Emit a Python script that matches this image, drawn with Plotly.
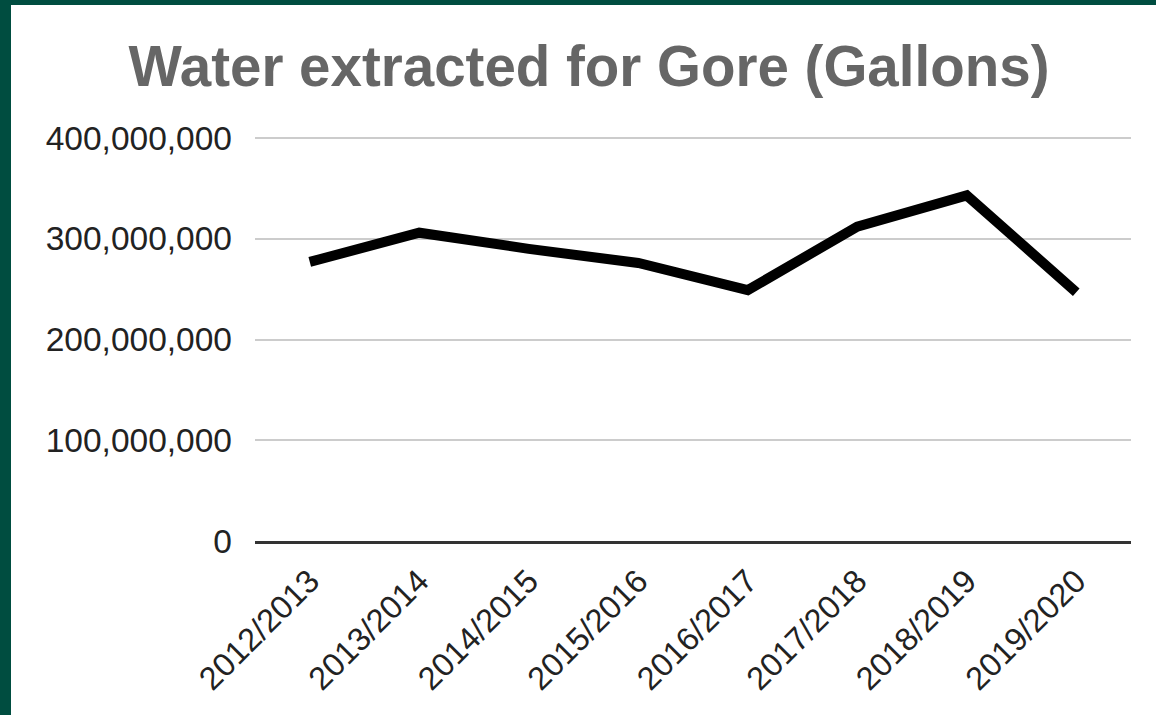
import plotly.graph_objects as go

years = ["2012/2013", "2013/2014", "2014/2015", "2015/2016",
         "2016/2017", "2017/2018", "2018/2019", "2019/2020"]
gallons = [277e6, 306e6, 290e6, 276e6, 249e6, 312e6, 343e6, 247e6]
y_ticks = [0, 100e6, 200e6, 300e6, 400e6]

W, H = 1156, 715
L, R, T, B = 255, 25, 137, 174
pw, ph = W - L - R, H - T - B

fig = go.Figure(go.Scatter(
    x=years, y=gallons, mode="lines",
    line=dict(color="#000000", width=10),
    hoverinfo="skip",
))

border = "#004D40"
fig.add_shape(type="rect", xref="paper", yref="paper",
              x0=-L / pw, x1=(11 - L) / pw, y0=-B / ph, y1=(H - B) / ph,
              fillcolor=border, line_width=0, layer="below")
fig.add_shape(type="rect", xref="paper", yref="paper",
              x0=-L / pw, x1=(W - L) / pw, y0=(H - B - 5) / ph, y1=(H - B) / ph,
              fillcolor=border, line_width=0, layer="below")

fig.update_layout(
    width=W, height=H,
    margin=dict(l=L, r=R, t=T, b=B, autoexpand=False),
    paper_bgcolor="white", plot_bgcolor="white",
    showlegend=False,
    font=dict(family="Liberation Sans, Arial, sans-serif", color="#222222", size=33),
    title=dict(text="<b>Water extracted for Gore (Gallons)</b>",
               font=dict(size=56.5, color="#666666", family="Liberation Sans, Arial, sans-serif"),
               xref="container", x=589 / W, xanchor="center",
               yref="container", y=1 - 66 / H, yanchor="middle"),
    xaxis=dict(type="category", tickangle=-45, showgrid=False,
               showline=True, linecolor="#333333", linewidth=3,
               ticks="", ticklabelstandoff=5,
               tickfont=dict(size=32.5, color="#222222"),
               range=[-0.5, len(years) - 0.5]),
    yaxis=dict(range=[0, 401e6], tickvals=y_ticks, tickformat=",d",
               showgrid=True, gridcolor="#cccccc", gridwidth=2,
               zeroline=False, showline=False, ticks="",
               ticklabelstandoff=22,
               tickfont=dict(size=33.5, color="#222222")),
)

fig.write_html("out.html", config={"displayModeBar": False},
               post_script="document.body.style.margin='0px';")
